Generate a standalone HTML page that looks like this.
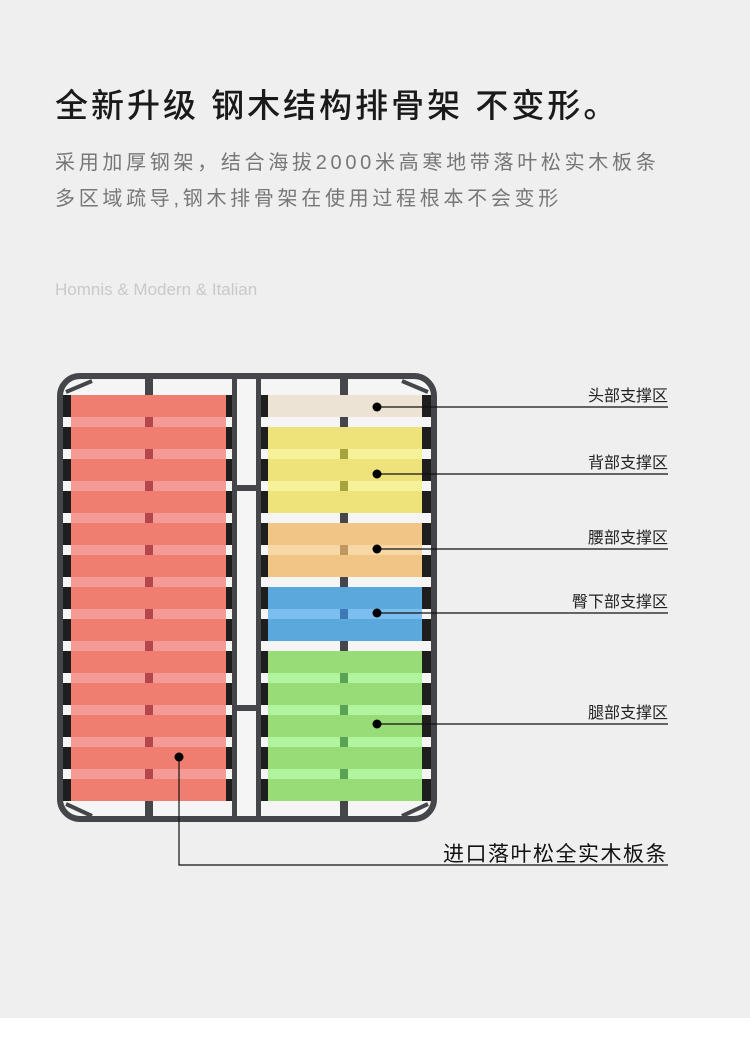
<!DOCTYPE html>
<html><head><meta charset="utf-8">
<style>
html,body{margin:0;padding:0;}
body{width:750px;height:1037px;background:#fff;position:relative;overflow:hidden;font-family:"Liberation Sans","Noto Sans CJK SC",sans-serif;}
#bg{position:absolute;left:0;top:0;width:750px;height:1018px;background:#efefef;}
.t{position:absolute;white-space:nowrap;}
</style></head><body>
<div id="bg"></div>
<div class="t" style="left:55px;top:79px;font-size:33px;letter-spacing:3px;color:#1a1a1a;font-weight:500;">全新升级 钢木结构排骨架 不变形。</div>
<div class="t" style="left:55px;top:146px;font-size:20px;letter-spacing:3.7px;color:#777;">采用加厚钢架，结合海拔2000米高寒地带落叶松实木板条</div>
<div class="t" style="left:55px;top:182px;font-size:20px;letter-spacing:3.7px;color:#777;">多区域疏导,钢木排骨架在使用过程根本不会变形</div>
<div class="t" style="left:55px;top:280px;font-size:17px;color:#c9c9c9;">Homnis &amp; Modern &amp; Italian</div>

<svg width="750" height="1037" style="position:absolute;left:0;top:0" xmlns="http://www.w3.org/2000/svg">
<rect x="62" y="380" width="370" height="436" fill="#f5f5f5"/>
<rect x="71" y="395" width="155" height="406" fill="#f59b96"/>
<g fill="#ef7e70">
<rect x="71" y="395" width="155" height="22"/><rect x="71" y="427" width="155" height="22"/><rect x="71" y="459" width="155" height="22"/><rect x="71" y="491" width="155" height="22"/><rect x="71" y="523" width="155" height="22"/><rect x="71" y="555" width="155" height="22"/><rect x="71" y="587" width="155" height="22"/><rect x="71" y="619" width="155" height="22"/><rect x="71" y="651" width="155" height="22"/><rect x="71" y="683" width="155" height="22"/><rect x="71" y="715" width="155" height="22"/><rect x="71" y="747" width="155" height="22"/><rect x="71" y="779" width="155" height="22"/>
</g>
<g fill="#b4474b">
<rect x="145" y="417" width="8" height="10"/><rect x="145" y="449" width="8" height="10"/><rect x="145" y="481" width="8" height="10"/><rect x="145" y="513" width="8" height="10"/><rect x="145" y="545" width="8" height="10"/><rect x="145" y="577" width="8" height="10"/><rect x="145" y="609" width="8" height="10"/><rect x="145" y="641" width="8" height="10"/><rect x="145" y="673" width="8" height="10"/><rect x="145" y="705" width="8" height="10"/><rect x="145" y="737" width="8" height="10"/><rect x="145" y="769" width="8" height="10"/>
</g>
<rect x="268" y="395" width="154" height="22" fill="#ede3d4"/>
<rect x="268" y="427" width="154" height="86" fill="#f6f29a"/>
<g fill="#eee37a"><rect x="268" y="427" width="154" height="22"/><rect x="268" y="459" width="154" height="22"/><rect x="268" y="491" width="154" height="22"/></g>
<rect x="268" y="523" width="154" height="54" fill="#f7d8a4"/>
<g fill="#f0c586"><rect x="268" y="523" width="154" height="22"/><rect x="268" y="555" width="154" height="22"/></g>
<rect x="268" y="587" width="154" height="54" fill="#7cbfee"/>
<g fill="#5ba8dd"><rect x="268" y="587" width="154" height="22"/><rect x="268" y="619" width="154" height="22"/></g>
<rect x="268" y="651" width="154" height="150" fill="#b0f59e"/>
<g fill="#98dc78"><rect x="268" y="651" width="154" height="22"/><rect x="268" y="683" width="154" height="22"/><rect x="268" y="715" width="154" height="22"/><rect x="268" y="747" width="154" height="22"/><rect x="268" y="779" width="154" height="22"/></g>
<g fill="#45464a">
<rect x="340" y="417" width="8" height="10"/><rect x="340" y="513" width="8" height="10"/><rect x="340" y="577" width="8" height="10"/><rect x="340" y="641" width="8" height="10"/>
</g>
<g fill="#a5a43c"><rect x="340" y="449" width="8" height="10"/><rect x="340" y="481" width="8" height="10"/></g>
<g fill="#c09760"><rect x="340" y="545" width="8" height="10"/></g>
<g fill="#3d79b5"><rect x="340" y="609" width="8" height="10"/></g>
<g fill="#5aa355"><rect x="340" y="673" width="8" height="10"/><rect x="340" y="705" width="8" height="10"/><rect x="340" y="737" width="8" height="10"/><rect x="340" y="769" width="8" height="10"/></g>
<g fill="#1e1e1e">
<rect x="61" y="395" width="10" height="22"/><rect x="61" y="427" width="10" height="22"/><rect x="61" y="459" width="10" height="22"/><rect x="61" y="491" width="10" height="22"/><rect x="61" y="523" width="10" height="22"/><rect x="61" y="555" width="10" height="22"/><rect x="61" y="587" width="10" height="22"/><rect x="61" y="619" width="10" height="22"/><rect x="61" y="651" width="10" height="22"/><rect x="61" y="683" width="10" height="22"/><rect x="61" y="715" width="10" height="22"/><rect x="61" y="747" width="10" height="22"/><rect x="61" y="779" width="10" height="22"/>
<rect x="226" y="395" width="10" height="22"/><rect x="226" y="427" width="10" height="22"/><rect x="226" y="459" width="10" height="22"/><rect x="226" y="491" width="10" height="22"/><rect x="226" y="523" width="10" height="22"/><rect x="226" y="555" width="10" height="22"/><rect x="226" y="587" width="10" height="22"/><rect x="226" y="619" width="10" height="22"/><rect x="226" y="651" width="10" height="22"/><rect x="226" y="683" width="10" height="22"/><rect x="226" y="715" width="10" height="22"/><rect x="226" y="747" width="10" height="22"/><rect x="226" y="779" width="10" height="22"/>
<rect x="258" y="395" width="10" height="22"/><rect x="258" y="427" width="10" height="22"/><rect x="258" y="459" width="10" height="22"/><rect x="258" y="491" width="10" height="22"/><rect x="258" y="523" width="10" height="22"/><rect x="258" y="555" width="10" height="22"/><rect x="258" y="587" width="10" height="22"/><rect x="258" y="619" width="10" height="22"/><rect x="258" y="651" width="10" height="22"/><rect x="258" y="683" width="10" height="22"/><rect x="258" y="715" width="10" height="22"/><rect x="258" y="747" width="10" height="22"/><rect x="258" y="779" width="10" height="22"/>
<rect x="422" y="395" width="10" height="22"/><rect x="422" y="427" width="10" height="22"/><rect x="422" y="459" width="10" height="22"/><rect x="422" y="491" width="10" height="22"/><rect x="422" y="523" width="10" height="22"/><rect x="422" y="555" width="10" height="22"/><rect x="422" y="587" width="10" height="22"/><rect x="422" y="619" width="10" height="22"/><rect x="422" y="651" width="10" height="22"/><rect x="422" y="683" width="10" height="22"/><rect x="422" y="715" width="10" height="22"/><rect x="422" y="747" width="10" height="22"/><rect x="422" y="779" width="10" height="22"/>
</g>
<g fill="#45464a">
<rect x="145" y="378" width="8" height="17"/><rect x="340" y="378" width="8" height="17"/>
<rect x="145" y="801" width="8" height="17"/><rect x="340" y="801" width="8" height="17"/>
<rect x="232" y="378" width="5" height="440"/><rect x="256" y="378" width="5" height="440"/>
<rect x="237" y="485" width="19" height="6"/><rect x="237" y="705" width="19" height="6"/>
</g>
<rect x="60" y="376" width="374" height="443" rx="20" fill="none" stroke="#45464a" stroke-width="6"/>
<g stroke="#45464a" stroke-width="4" fill="none">
<line x1="66" y1="392" x2="92" y2="381"/><line x1="66" y1="804" x2="92" y2="816"/>
<line x1="428" y1="392" x2="402" y2="381"/><line x1="428" y1="804" x2="402" y2="816"/>
</g>
<g stroke="#111" stroke-width="1.2">
<line x1="377" y1="407" x2="668" y2="407"/>
<line x1="377" y1="474" x2="668" y2="474"/>
<line x1="377" y1="549" x2="668" y2="549"/>
<line x1="377" y1="613" x2="668" y2="613"/>
<line x1="377" y1="724" x2="668" y2="724"/>
<polyline points="179,757 179,865 668,865" fill="none"/>
</g>
<g fill="#000">
<circle cx="377" cy="407" r="4.5"/><circle cx="377" cy="474" r="4.5"/><circle cx="377" cy="549" r="4.5"/><circle cx="377" cy="613" r="4.5"/><circle cx="377" cy="724" r="4.5"/><circle cx="179" cy="757" r="4.5"/>
</g>
<g font-family="Liberation Sans, Noto Sans CJK SC, sans-serif" font-size="16" fill="#222" text-anchor="end">
<text x="668" y="401">头部支撑区</text>
<text x="668" y="468">背部支撑区</text>
<text x="668" y="543">腰部支撑区</text>
<text x="668" y="607">臀下部支撑区</text>
<text x="668" y="718">腿部支撑区</text>
</g>
<text x="668" y="861" text-anchor="end" font-family="Liberation Sans, Noto Sans CJK SC, sans-serif" font-size="21" letter-spacing="1.5" fill="#111">进口落叶松全实木板条</text>
</svg>
</body></html>
